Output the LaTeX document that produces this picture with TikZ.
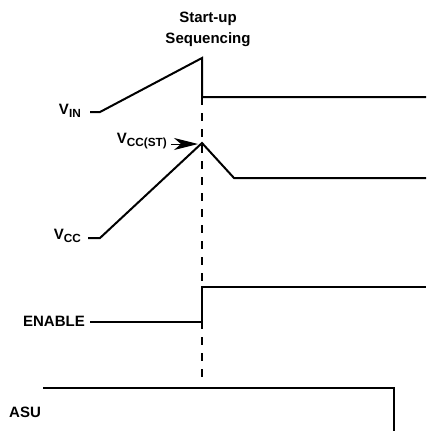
\documentclass[tikz,border=0pt]{standalone}
\usepackage{fontspec}
\setmainfont{Liberation Sans}
\usetikzlibrary{arrows.meta, positioning}
\newcommand{\sigsub}[2]{#1\raisebox{-3.2pt}{\fontsize{11.8}{12}\selectfont #2}}
\tikzset{
  wave/.style={line width=2pt, black, line join=miter},
  marker/.style={line width=1.8pt, dash pattern=on 8pt off 8pt},
  siglabel/.style={font=\bfseries\fontsize{15}{20.5}\selectfont, inner sep=0pt},
  pointer/.style={-{Stealth[length=24pt, width=12pt, inset=7pt]}, line width=1pt}
}

\begin{document}
\begin{tikzpicture}[x=1pt, y=-1pt]
  \useasboundingbox (0,0) rectangle (446,431);

  % Title
  \node[siglabel, align=center, anchor=base] (title) at (208,43) {Start-up\\Sequencing};

  % Vin waveform
  \coordinate (vinA) at (90,112);
  \coordinate (vinB) at (100,112);
  \coordinate (vinTop) at (202,58);
  \coordinate (vinLow) at (202,97);
  \coordinate (vinEnd) at (426,97);
  \draw[wave] (vinA) -- (vinB) -- (vinTop) -- (vinLow) -- (vinEnd);
  \node[siglabel, anchor=base east] (vin) at (81,114) {\sigsub{V}{IN}};

  % Vcc waveform
  \coordinate (vccA) at (88,238);
  \coordinate (vccB) at (100,238);
  \coordinate (vccTop) at (202,143);
  \coordinate (vccKnee) at (234,178);
  \coordinate (vccEnd) at (426,178);
  \draw[wave] (vccA) -- (vccB) -- (vccTop) -- (vccKnee) -- (vccEnd);
  \node[siglabel, anchor=base east] (vcc) at (81,239) {\sigsub{V}{CC}};

  % Vcc start-up threshold
  \node[siglabel, anchor=base east] (vccst) at (167,143) {\sigsub{V}{CC(ST)}};
  \coordinate (stTip) at (198,144);
  \draw[pointer] ([xshift=4pt]vccst.base east |- stTip) -- (stTip);

  % Enable waveform
  \coordinate (enA) at (90,322);
  \coordinate (enStep) at (202,322);
  \coordinate (enHigh) at (202,287);
  \coordinate (enEnd) at (426,287);
  \draw[wave] (enA) -- (enStep) -- (enHigh) -- (enEnd);
  \node[siglabel, anchor=base east] (enable) at (85,326) {ENABLE};

  % ASU waveform
  \coordinate (asuA) at (43,388);
  \coordinate (asuB) at (394,388);
  \coordinate (asuEnd) at (394,431);
  \draw[wave] (asuA) -- (asuB) -- (asuEnd);
  \node[siglabel, anchor=base west] (asu) at (9,417) {ASU};

  % Sequencing marker
  \coordinate (markEnd) at (202,383);
  \draw[marker] (vinLow) -- (markEnd);
\end{tikzpicture}
\end{document}
